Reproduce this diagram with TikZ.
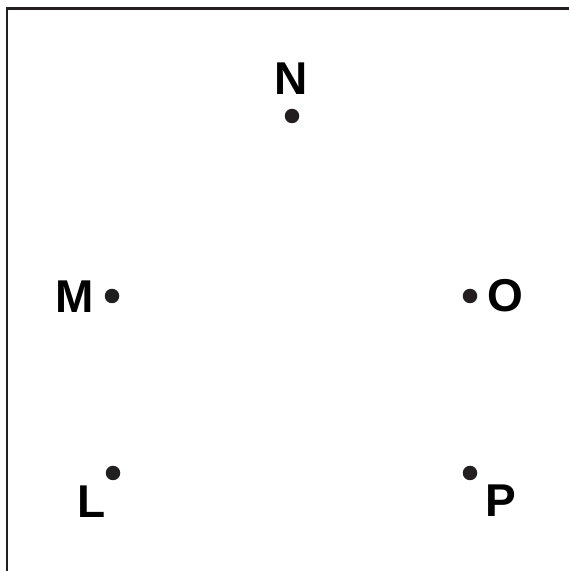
\documentclass[tikz,border=0pt]{standalone}
\usepackage{fontspec}
\setmainfont{Liberation Sans}
\definecolor{ink}{HTML}{231F20}
\begin{document}
\begin{tikzpicture}[x=1pt,y=1pt,
  dot/.style={circle,fill=ink,inner sep=0pt,minimum size=14.5pt},
  lbl/.style={inner sep=0pt,font=\fontsize{46}{46}\selectfont\bfseries,text=black}]
\useasboundingbox (0,0) rectangle (569,571);
\draw[line width=2.5pt,ink] (7,-5) -- (7,562.5) -- (580,562.5);
% dots (y = 571 - image y)
\node[dot] (dN) at (292,455) {};
\node[dot] (dM) at (112,275) {};
\node[dot] (dO) at (470,275) {};
\node[dot] (dL) at (113,98) {};
\node[dot] (dP) at (470,98) {};
% labels
\node[lbl] (N) at (291,492.5) {N};
\node[lbl] (M) at (75,274.5) {M};
\node[lbl] (O) at (505,275) {O};
\node[lbl] (L) at (92,69) {L};
\node[lbl] (P) at (501,70) {P};
\end{tikzpicture}
\end{document}
